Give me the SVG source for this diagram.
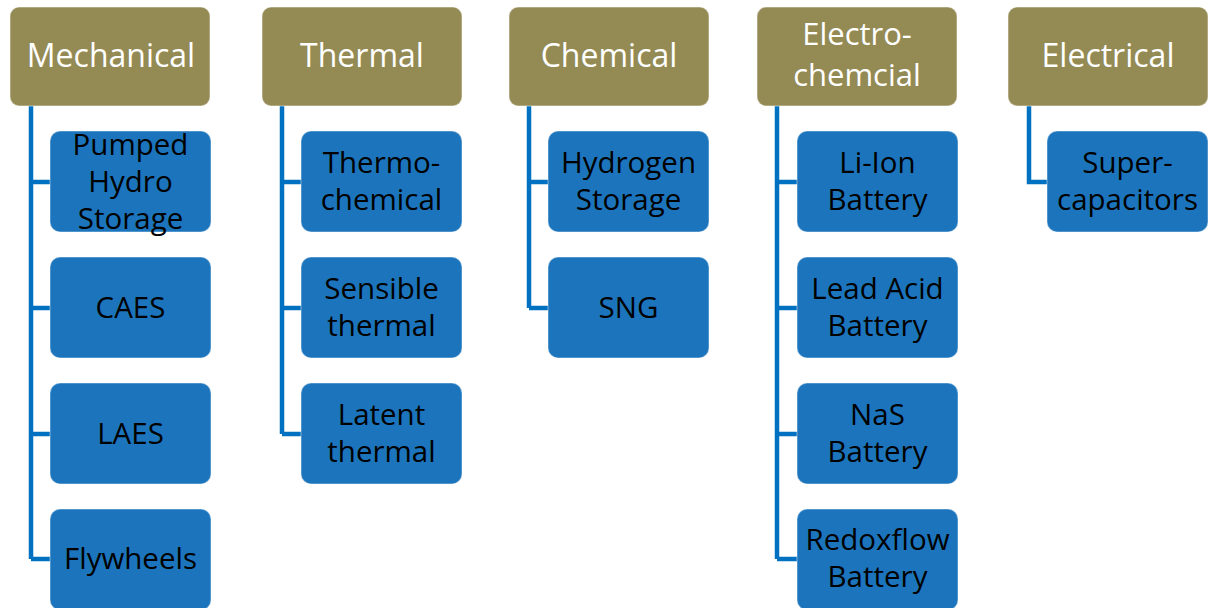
<svg xmlns="http://www.w3.org/2000/svg" width="1214" height="608" viewBox="0 0 1214 608">
<style>
.hdr{fill:#948A54;stroke:#ffffff;stroke-opacity:0.35;stroke-width:1.5}
.kid{fill:#1C75BC;stroke:#ffffff;stroke-opacity:0.3;stroke-width:1.5}
.ht{font-family:"Open Sans","Liberation Sans",sans-serif;font-size:32px;fill:#ffffff;text-anchor:middle}
.ht2{font-family:"Open Sans","Liberation Sans",sans-serif;font-size:31px;fill:#ffffff;text-anchor:middle}
.kt{font-family:"Open Sans","Liberation Sans",sans-serif;font-size:29.5px;fill:#000000;text-anchor:middle}
.con{fill:none;stroke:#0070C0;stroke-width:4.5}
</style>
<rect width="1214" height="608" fill="#ffffff"/>
<g id="connectors">
<path class="con" d="M31,106 V559 M31,182 H50 M31,308 H50 M31,434 H50 M31,559 H50"/>
<path class="con" d="M282,106 V434 M282,182 H301 M282,308 H301 M282,434 H301"/>
<path class="con" d="M529,106 V308 M529,182 H548 M529,308 H548"/>
<path class="con" d="M777,106 V559 M777,182 H797 M777,308 H797 M777,434 H797 M777,559 H797"/>
<path class="con" d="M1029,106 V182 H1047"/>
</g>
<g id="h-mechanical"><rect class="hdr" x="10" y="7" width="200" height="99" rx="9"/><text class="ht" x="111" y="67">Mechanical</text></g>
<g id="h-thermal"><rect class="hdr" x="262" y="7" width="200" height="99" rx="9"/><text class="ht" x="362" y="67">Thermal</text></g>
<g id="h-chemical"><rect class="hdr" x="509" y="7" width="200" height="99" rx="9"/><text class="ht" x="609" y="67">Chemical</text></g>
<g id="h-electrochemical"><rect class="hdr" x="757" y="7" width="200" height="99" rx="9"/><text class="ht2" x="857" y="45">Electro-</text><text class="ht2" x="857" y="86">chemcial</text></g>
<g id="h-electrical"><rect class="hdr" x="1008" y="7" width="200" height="99" rx="9"/><text class="ht" x="1108" y="67">Electrical</text></g>

<g id="n-phs"><rect class="kid" x="50" y="131" width="161" height="101" rx="10"/><text class="kt" x="130.5" y="155">Pumped</text><text class="kt" x="130.5" y="192">Hydro</text><text class="kt" x="130.5" y="229">Storage</text></g>
<g id="n-caes"><rect class="kid" x="50" y="257" width="161" height="101" rx="10"/><text class="kt" x="130.5" y="318">CAES</text></g>
<g id="n-laes"><rect class="kid" x="50" y="383" width="161" height="101" rx="10"/><text class="kt" x="130.5" y="444">LAES</text></g>
<g id="n-flywheels"><rect class="kid" x="50" y="509" width="161" height="101" rx="10"/><text class="kt" x="130.5" y="569">Flywheels</text></g>

<g id="n-thermochemical"><rect class="kid" x="301" y="131" width="161" height="101" rx="10"/><text class="kt" x="381.5" y="173">Thermo-</text><text class="kt" x="381.5" y="210">chemical</text></g>
<g id="n-sensible"><rect class="kid" x="301" y="257" width="161" height="101" rx="10"/><text class="kt" x="381.5" y="299">Sensible</text><text class="kt" x="381.5" y="336">thermal</text></g>
<g id="n-latent"><rect class="kid" x="301" y="383" width="161" height="101" rx="10"/><text class="kt" x="381.5" y="425">Latent</text><text class="kt" x="381.5" y="462">thermal</text></g>

<g id="n-hydrogen"><rect class="kid" x="548" y="131" width="161" height="101" rx="10"/><text class="kt" x="628.5" y="173">Hydrogen</text><text class="kt" x="628.5" y="210">Storage</text></g>
<g id="n-sng"><rect class="kid" x="548" y="257" width="161" height="101" rx="10"/><text class="kt" x="628.5" y="318">SNG</text></g>

<g id="n-liion"><rect class="kid" x="797" y="131" width="161" height="101" rx="10"/><text class="kt" x="877.5" y="173">Li-Ion</text><text class="kt" x="877.5" y="210">Battery</text></g>
<g id="n-leadacid"><rect class="kid" x="797" y="257" width="161" height="101" rx="10"/><text class="kt" x="877.5" y="299">Lead Acid</text><text class="kt" x="877.5" y="336">Battery</text></g>
<g id="n-nas"><rect class="kid" x="797" y="383" width="161" height="101" rx="10"/><text class="kt" x="877.5" y="425">NaS</text><text class="kt" x="877.5" y="462">Battery</text></g>
<g id="n-redoxflow"><rect class="kid" x="797" y="509" width="161" height="101" rx="10"/><text class="kt" x="877.5" y="550">Redoxflow</text><text class="kt" x="877.5" y="587">Battery</text></g>

<g id="n-supercap"><rect class="kid" x="1047" y="131" width="161" height="101" rx="10"/><text class="kt" x="1127.5" y="173">Super-</text><text class="kt" x="1127.5" y="210">capacitors</text></g>
</svg>
